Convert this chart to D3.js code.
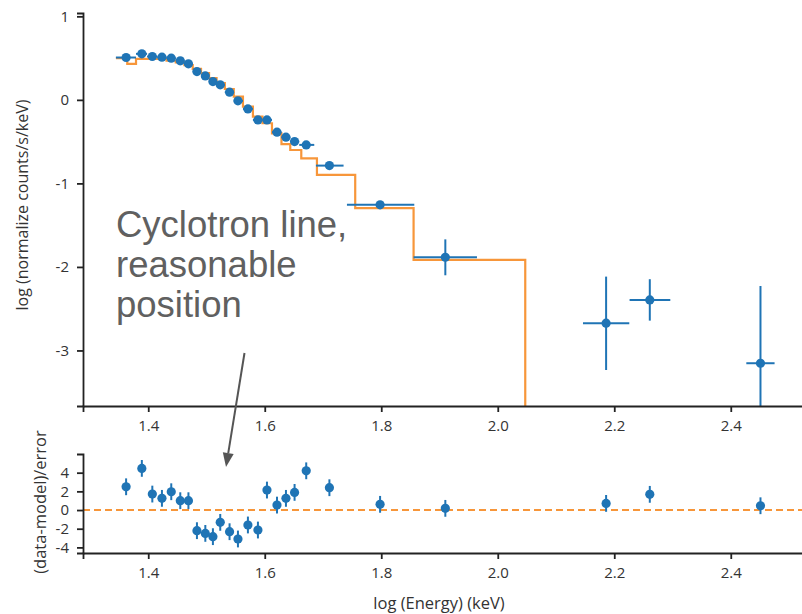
<!DOCTYPE html>
<html>
<head>
<meta charset="utf-8">
<script src="https://cdn.jsdelivr.net/npm/d3@7"></script>
<style>
  body { margin: 0; background: #fff; }
  svg { display: block; }
</style>
</head>
<body>
<svg id="chart" width="802" height="614"></svg>
<script>
// ---- Spectrum data (log energy bins, log counts) ----
const energyLog = [1.362, 1.389, 1.407, 1.4235, 1.4395, 1.455, 1.469, 1.4836, 1.498, 1.511,
                   1.5236, 1.5396, 1.554, 1.5711, 1.5883, 1.6038, 1.621, 1.6364, 1.6512, 1.6712,
                   1.711, 1.798, 1.910, 2.186, 2.261, 2.451];
const binLo = [1.3445, 1.379, 1.398, 1.4155, 1.4314, 1.4472, 1.4621, 1.4764, 1.4906, 1.5044,
               1.5173, 1.5315, 1.5468, 1.5626, 1.5797, 1.5961, 1.6124, 1.6287, 1.6438, 1.6592,
               1.6879, 1.7411, 1.8555, 2.1463, 2.2263, 2.4267];
const binHi = [1.379, 1.398, 1.4155, 1.4314, 1.4472, 1.4621, 1.4764, 1.4906, 1.5044, 1.5173,
               1.5315, 1.5468, 1.5626, 1.5797, 1.5961, 1.6124, 1.6287, 1.6438, 1.6592, 1.685,
               1.7353, 1.8567, 1.9643, 2.2258, 2.2962, 2.4752];
const logCounts = [0.507, 0.551, 0.519, 0.511, 0.499, 0.467, 0.431, 0.339, 0.287, 0.219,
                   0.180, 0.092, -0.012, -0.108, -0.240, -0.240, -0.387, -0.447, -0.499, -0.539,
                   -0.787, -1.257, -1.884, -2.674, -2.395, -3.153];
const countsLo = [0.49, 0.535, 0.50, 0.49, 0.48, 0.45, 0.41, 0.32, 0.27, 0.20,
                  0.16, 0.07, -0.03, -0.13, -0.26, -0.26, -0.41, -0.47, -0.52, -0.56,
                  -0.81, -1.30, -2.10, -3.234, -2.643, -4.5];
const countsHi = [0.525, 0.57, 0.54, 0.53, 0.52, 0.485, 0.45, 0.36, 0.31, 0.24,
                  0.20, 0.11, 0.01, -0.09, -0.22, -0.22, -0.37, -0.43, -0.48, -0.52,
                  -0.77, -1.21, -1.67, -2.116, -2.147, -2.228];

// ---- Model (stepped), one value per bin between consecutive edges ----
const modelEdges = [1.3445, 1.364, 1.379, 1.398, 1.4155, 1.4314, 1.4472, 1.4621, 1.4764, 1.4906,
                    1.5044, 1.5173, 1.5315, 1.5468, 1.5626, 1.5797, 1.5961, 1.6124, 1.6287, 1.6438,
                    1.6627, 1.6896, 1.7553, 1.8555, 2.0472];
const modelValues = [0.50, 0.43, 0.49, 0.49, 0.49, 0.47, 0.45, 0.415, 0.37, 0.32,
                     0.26, 0.20, 0.13, 0.04, -0.08, -0.20, -0.28, -0.40, -0.53, -0.60,
                     -0.70, -0.898, -1.297, -1.916];
const modelFloor = -5;   // model falls off below the plotted range after the last bin

// ---- Residuals ((data-model)/error) ----
const residuals = [2.49, 4.46, 1.71, 1.25, 1.96, 1.0, 1.0, -2.21, -2.5, -2.85,
                   -1.32, -2.32, -3.1, -1.6, -2.14, 2.14, 0.53, 1.25, 1.89, 4.2,
                   2.39, 0.61, 0.18, 0.71, 1.68, 0.46];
const residualErr = 0.9;

// ---- Ticks and labels ----
const xTicks = [1.4, 1.6, 1.8, 2.0, 2.2, 2.4];
const yTopTicks = [1, 0, -1, -2, -3];
const yResTicks = [4, 2, 0, -2, -4];
const xLabel = "log (Energy) (keV)";
const yTopLabel = "log (normalize counts/s/keV)";
const yResLabel = "(data-model)/error";
const noteLines = ["Cyclotron line,", "reasonable", "position"];

const BLUE = "#1f74b5";
const ORANGE = "#f7963a";
const AXIS = "#222";
const TICK_FONT = "'Open Sans', 'DejaVu Sans', sans-serif";

const svg = d3.select("#chart");
svg.append("rect").attr("width", 802).attr("height", 614).attr("fill", "#fff");

const x = d3.scaleLinear().domain([1.288, 2.524]).range([83, 803]);
const yTop = d3.scaleLinear().domain([-3.665, 1.04]).range([406, 13]);
const yRes = d3.scaleLinear().domain([-4.6, 6.0]).range([553, 454]);

const defs = svg.append("defs");
defs.append("clipPath").attr("id", "clipTop")
  .append("rect").attr("x", 83).attr("y", 13).attr("width", 720).attr("height", 393);
defs.append("clipPath").attr("id", "clipRes")
  .append("rect").attr("x", 83).attr("y", 454).attr("width", 720).attr("height", 99);

// ---- Top panel: model step line ----
const spectrumPanel = svg.append("g").attr("clip-path", "url(#clipTop)");
const stepPts = modelValues.map((v, i) => [modelEdges[i], v]);
stepPts.push([modelEdges[modelEdges.length - 1], modelFloor]);
const stepLine = d3.line().x(d => x(d[0])).y(d => yTop(d[1])).curve(d3.curveStepAfter);
spectrumPanel.append("path").datum(stepPts)
  .attr("d", stepLine)
  .attr("fill", "none").attr("stroke", ORANGE).attr("stroke-width", 2.2);

// ---- Top panel: data with error bars ----
const pts = energyLog.map((e, i) => ({
  e, lo: binLo[i], hi: binHi[i], v: logCounts[i], vlo: countsLo[i], vhi: countsHi[i]
}));
const g1 = spectrumPanel.selectAll("g.pt").data(pts).join("g").attr("class", "pt");
g1.append("line")
  .attr("x1", d => x(d.lo)).attr("x2", d => x(d.hi))
  .attr("y1", d => yTop(d.v)).attr("y2", d => yTop(d.v))
  .attr("stroke", BLUE).attr("stroke-width", 2);
g1.append("line")
  .attr("x1", d => x(d.e)).attr("x2", d => x(d.e))
  .attr("y1", d => yTop(d.vlo)).attr("y2", d => yTop(d.vhi))
  .attr("stroke", BLUE).attr("stroke-width", 2);
g1.append("circle")
  .attr("cx", d => x(d.e)).attr("cy", d => yTop(d.v)).attr("r", 4.6)
  .attr("fill", BLUE);

// ---- Residual panel ----
const residualPanel = svg.append("g").attr("clip-path", "url(#clipRes)");
residualPanel.append("line")
  .attr("x1", x.range()[0]).attr("x2", x.range()[1])
  .attr("y1", yRes(0)).attr("y2", yRes(0))
  .attr("stroke", ORANGE).attr("stroke-width", 2).attr("stroke-dasharray", "7,4");
const rp = energyLog.map((e, i) => ({ e, r: residuals[i] }));
const g2 = residualPanel.selectAll("g.rp").data(rp).join("g").attr("class", "rp");
g2.append("line")
  .attr("x1", d => x(d.e)).attr("x2", d => x(d.e))
  .attr("y1", d => yRes(d.r - residualErr)).attr("y2", d => yRes(d.r + residualErr))
  .attr("stroke", BLUE).attr("stroke-width", 2);
g2.append("circle")
  .attr("cx", d => x(d.e)).attr("cy", d => yRes(d.r)).attr("r", 4.6)
  .attr("fill", BLUE);

// ---- Axes ----
function styleAxis(g) {
  g.selectAll("path.domain").attr("stroke", AXIS).attr("stroke-width", 1.8);
  g.selectAll(".tick line").attr("stroke", AXIS).attr("stroke-width", 1.8);
  g.selectAll(".tick text").attr("fill", "#333")
    .style("font-family", TICK_FONT).style("font-size", "15px");
}
const fmtX = d3.format(".1f");
const fmtY = d => String(d);

svg.append("g").attr("transform", `translate(0,${yTop.range()[0]})`)
  .call(d3.axisBottom(x).tickValues(xTicks).tickFormat(fmtX).tickSize(6).tickPadding(8))
  .call(styleAxis);
svg.append("g").attr("transform", `translate(${x.range()[0]},0)`)
  .call(d3.axisLeft(yTop).tickValues(yTopTicks).tickFormat(fmtY).tickSize(6).tickPadding(8))
  .call(styleAxis);
svg.append("g").attr("transform", `translate(0,${yRes.range()[0]})`)
  .call(d3.axisBottom(x).tickValues(xTicks).tickFormat(fmtX).tickSize(6).tickPadding(8))
  .call(styleAxis);
svg.append("g").attr("transform", `translate(${x.range()[0]},0)`)
  .call(d3.axisLeft(yRes).tickValues(yResTicks).tickFormat(fmtY).tickSize(6).tickPadding(8))
  .call(styleAxis);

// ---- Axis titles ----
svg.append("text").text(xLabel)
  .attr("x", 439).attr("y", 609).attr("text-anchor", "middle")
  .attr("fill", "#333").style("font-family", TICK_FONT).style("font-size", "16.5px");
svg.append("text").text(yTopLabel)
  .attr("transform", "translate(28,205) rotate(-90)").attr("text-anchor", "middle")
  .attr("fill", "#333").style("font-family", TICK_FONT).style("font-size", "16px");
svg.append("text").text(yResLabel)
  .attr("transform", "translate(46,502) rotate(-90)").attr("text-anchor", "middle")
  .attr("fill", "#333").style("font-family", TICK_FONT).style("font-size", "16.5px");

// ---- Annotation ----
const note = svg.append("text")
  .attr("fill", "#606060")
  .style("font-family", "'Liberation Sans', Arial, sans-serif")
  .style("font-size", "36.5px");
noteLines.forEach((t, i) => {
  note.append("tspan").attr("x", 116).attr("y", 237 + i * 40).text(t);
});

const ax0 = [244.5, 353], ax1 = [226, 467];
const dx = ax1[0] - ax0[0], dy = ax1[1] - ax0[1];
const len = Math.hypot(dx, dy), ux = dx / len, uy = dy / len;
const headLen = 14, headW = 5.5;
const bx = ax1[0] - ux * headLen, by = ax1[1] - uy * headLen;
svg.append("line")
  .attr("x1", ax0[0]).attr("y1", ax0[1]).attr("x2", bx).attr("y2", by)
  .attr("stroke", "#555").attr("stroke-width", 2);
svg.append("path")
  .attr("d", `M${ax1[0]},${ax1[1]} L${bx - uy * headW},${by + ux * headW} L${bx + uy * headW},${by - ux * headW} Z`)
  .attr("fill", "#555");
</script>
</body>
</html>
